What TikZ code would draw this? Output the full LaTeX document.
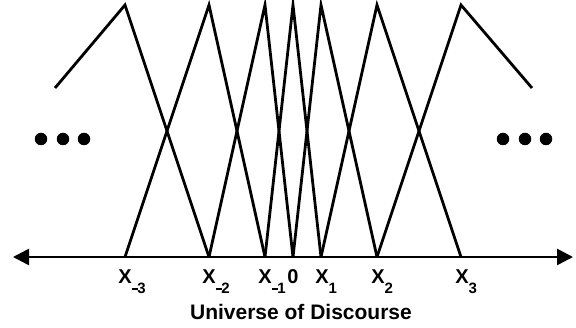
\documentclass[tikz,border=0pt]{standalone}
\usepackage{fontspec}
\setmainfont{Liberation Sans}
\usetikzlibrary{arrows.meta}
\newcommand{\subtxt}[1]{\rlap{\raisebox{-10pt}{\fontsize{15}{15}\selectfont #1}}}
\newcommand{\negsub}[1]{\rlap{\raisebox{-10pt}{\fontsize{15}{15}\selectfont\rule[4pt]{6.5pt}{2.2pt}\kern-0.8pt#1}}}
\tikzset{
  mf/.style={line width=2.8pt, line join=miter},
  axisline/.style={line width=2.6pt, {Triangle[length=16pt,width=16pt]}-{Triangle[length=16pt,width=16pt]}},
  lbl/.style={anchor=base, inner sep=0pt, font=\fontsize{20}{20}\selectfont\bfseries},
  ttl/.style={anchor=base, inner sep=0pt, font=\fontsize{21}{21}\selectfont\bfseries},
  dotc/.style={circle, fill=black, inner sep=0pt, minimum size=12.5pt}
}
\begin{document}
\begin{tikzpicture}[x=1pt,y=-1pt]
\useasboundingbox (0,0) rectangle (576,328);
% axis ends
\coordinate (L) at (13,257);
\coordinate (R) at (573,257);
% base points
\coordinate (bm3) at (125,257);
\coordinate (bm2) at (209,257);
\coordinate (bm1) at (265,257);
\coordinate (b0) at (293,257);
\coordinate (bp1) at (321,257);
\coordinate (bp2) at (377,257);
\coordinate (bp3) at (461,257);
% peaks
\coordinate (pm3) at (125,5);
\coordinate (pm2) at (209,5);
\coordinate (pm1) at (265,5);
\coordinate (p0) at (293,5);
\coordinate (pp1) at (321,5);
\coordinate (pp2) at (377,5);
\coordinate (pp3) at (461,5);
% outer ends
\coordinate (el) at (55,88);
\coordinate (er) at (532,88);
% membership functions
\draw[mf] (el) -- (pm3) -- (bm2);
\draw[mf] (bm3) -- (pm2) -- (bm1);
\draw[mf] (bm2) -- (pm1) -- (b0);
\draw[mf] (bm1) -- (p0) -- (bp1);
\draw[mf] (b0) -- (pp1) -- (bp2);
\draw[mf] (bp1) -- (pp2) -- (bp3);
\draw[mf] (bp2) -- (pp3) -- (er);
% axis
\draw[axisline] (L) -- (R);
% dots
\node[dotc] (d1) at (41,139) {};
\node[dotc] (d2) at (63,139) {};
\node[dotc] (d3) at (84,139) {};
\node[dotc] (d4) at (503,139) {};
\node[dotc] (d5) at (525,139) {};
\node[dotc] (d6) at (546,139) {};
% labels
\node[lbl] (lm3) at (125,284) {X\negsub{3}};
\node[lbl] (lm2) at (209,284) {X\negsub{2}};
\node[lbl] (lm1) at (265,284) {X\negsub{1}};
\node[lbl] (l0) at (293,284) {0};
\node[lbl] (lp1) at (322,284) {X\subtxt{1}};
\node[lbl] (lp2) at (378,284) {X\subtxt{2}};
\node[lbl] (lp3) at (462,284) {X\subtxt{3}};
\node[ttl] (title) at (301,320) {Universe of Discourse};
\end{tikzpicture}
\end{document}
